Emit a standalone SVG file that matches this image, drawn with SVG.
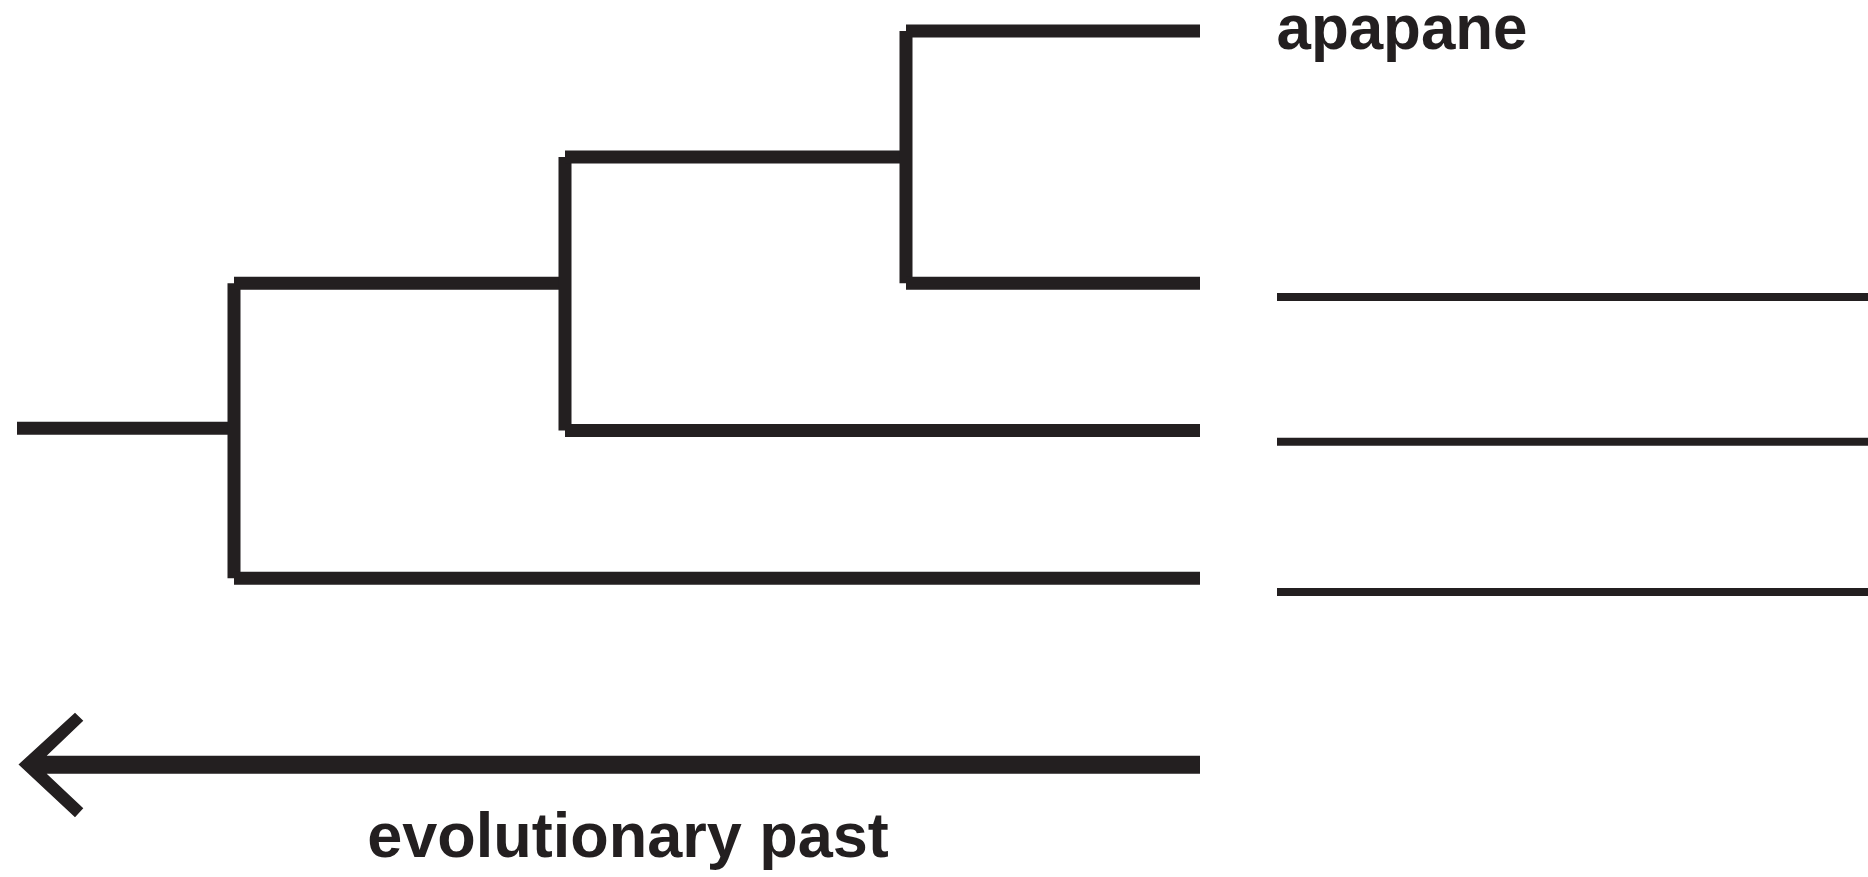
<svg xmlns="http://www.w3.org/2000/svg" width="1868" height="877" viewBox="0 0 1868 877">
  <style>
    .branch { stroke: #231f20; stroke-width: 13; stroke-linecap: butt; fill: none; }
    .blank { stroke: #231f20; stroke-width: 8; stroke-linecap: butt; fill: none; }
    .label { font-family: "Liberation Sans", Arial, Helvetica, sans-serif; font-weight: bold; font-size: 63px; fill: #231f20; }
  </style>
  <rect width="1868" height="877" fill="#ffffff"/>

  <!-- tree branches -->
  <g id="connectors">
    <line class="branch" x1="17" y1="428.3" x2="234" y2="428.3"/>
    <line class="branch" x1="234" y1="283.3" x2="234" y2="578.3"/>
    <line class="branch" x1="234" y1="283.3" x2="565" y2="283.3"/>
    <line class="branch" x1="234" y1="578.3" x2="1200" y2="578.3"/>
    <line class="branch" x1="565" y1="157" x2="565" y2="430.5"/>
    <line class="branch" x1="565" y1="157" x2="906" y2="157"/>
    <line class="branch" x1="565" y1="430.5" x2="1200" y2="430.5"/>
    <line class="branch" x1="906" y1="31" x2="906" y2="283.3"/>
    <line class="branch" x1="906" y1="31" x2="1200" y2="31"/>
    <line class="branch" x1="906" y1="283.3" x2="1200" y2="283.3"/>
  </g>

  <!-- tip labels -->
  <g id="label-apapane">
    <text class="label" x="1402" y="48.5" text-anchor="middle" textLength="251" lengthAdjust="spacingAndGlyphs">apapane</text>
  </g>
  <g id="blank-1">
    <line class="blank" x1="1277" y1="297" x2="1868" y2="297"/>
  </g>
  <g id="blank-2">
    <line class="blank" x1="1277" y1="441.7" x2="1868" y2="441.7"/>
  </g>
  <g id="blank-3">
    <line class="blank" x1="1277" y1="592" x2="1868" y2="592"/>
  </g>

  <!-- time axis -->
  <g id="time-axis">
    <path fill="#231f20" d="M18.5,764.5 L75,712.7 L83.3,720.7 L46.7,755.7 L1200,755.7 L1200,773.8 L46.7,773.8 L83.3,808.3 L75,817.3 Z"/>
    <text class="label" x="628" y="856.7" text-anchor="middle">evolutionary past</text>
  </g>
</svg>
